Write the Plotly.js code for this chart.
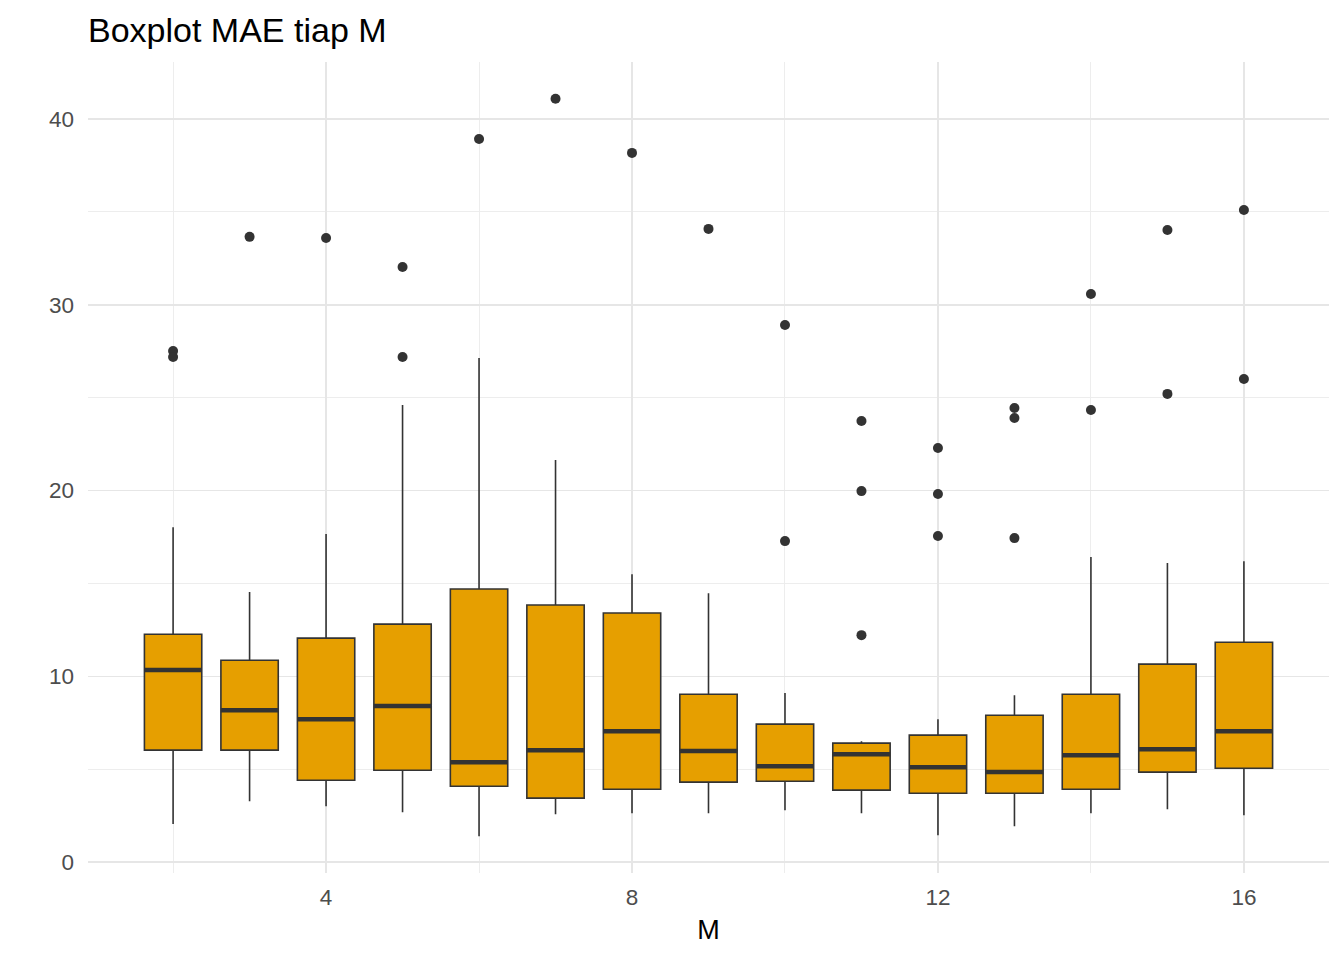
<!DOCTYPE html>
<html>
<head>
<meta charset="utf-8">
<script src="https://cdn.plot.ly/plotly-3.0.1.min.js"></script>
<style>html,body{margin:0;padding:0;background:#fff;}#chart{width:1344px;height:960px;}</style>
</head>
<body>
<div id="chart"></div>
<script>
const M = [2, 3, 4, 5, 6, 7, 8, 9, 10, 11, 12, 13, 14, 15, 16];
const lowerWhisker = [2.05, 3.28, 3.01, 2.69, 1.40, 2.58, 2.64, 2.64, 2.80, 2.64, 1.45, 1.94, 2.64, 2.85, 2.53];
const q1 = [6.03, 6.03, 4.41, 4.95, 4.09, 3.45, 3.93, 4.31, 4.36, 3.88, 3.71, 3.71, 3.93, 4.85, 5.06];
const median = [10.34, 8.18, 7.70, 8.40, 5.38, 6.03, 7.05, 5.98, 5.17, 5.81, 5.11, 4.85, 5.76, 6.08, 7.05];
const q3 = [12.27, 10.87, 12.06, 12.81, 14.70, 13.84, 13.41, 9.04, 7.43, 6.41, 6.84, 7.91, 9.04, 10.66, 11.84];
const upperWhisker = [18.03, 14.54, 17.66, 24.60, 27.13, 21.64, 15.50, 14.48, 9.10, 6.51, 7.70, 8.99, 16.42, 16.10, 16.20];
const outlierM = [2, 2, 3, 4, 5, 5, 6, 7, 8, 9, 10, 10, 11, 11, 11, 12, 12, 12, 13, 13, 13, 14, 14, 15, 15, 16, 16];
const outlierMAE = [27.51, 27.19, 33.65, 33.59, 32.03, 27.19, 38.92, 41.08, 38.17, 34.08, 28.91, 17.28, 23.74, 19.97, 12.22, 22.29, 19.81, 17.55, 24.44, 23.90, 17.44, 30.58, 24.33, 34.02, 25.20, 35.10, 26.00];

const boxWidth = 0.75;
const fillColor = '#E69F00';
const lineColor = '#333333';

// median bars (thicker, as in ggplot)
const medX = [], medY = [];
M.forEach((m, i) => {
  medX.push(m - boxWidth / 2, m + boxWidth / 2, null);
  medY.push(median[i], median[i], null);
});

const traces = [
  {
    type: 'box',
    x: M,
    q1: q1,
    median: median,
    q3: q3,
    lowerfence: lowerWhisker,
    upperfence: upperWhisker,
    width: boxWidth,
    whiskerwidth: 0,
    fillcolor: fillColor,
    line: {color: lineColor, width: 1.6},
    boxpoints: false,
    hoverinfo: 'skip',
    showlegend: false
  },
  {
    type: 'scatter',
    mode: 'lines',
    x: medX,
    y: medY,
    line: {color: lineColor, width: 4.5},
    hoverinfo: 'skip',
    showlegend: false
  },
  {
    type: 'scatter',
    mode: 'markers',
    x: outlierM,
    y: outlierMAE,
    marker: {color: lineColor, size: 10},
    hoverinfo: 'skip',
    showlegend: false
  }
];

const layout = {
  width: 1344,
  height: 960,
  paper_bgcolor: '#ffffff',
  plot_bgcolor: '#ffffff',
  margin: {l: 88, r: 15, t: 62, b: 87},
  font: {family: 'Liberation Sans, Arial, sans-serif', color: '#4d4d4d'},
  title: {
    text: 'Boxplot MAE tiap M',
    font: {size: 34, color: '#000000', family: 'Liberation Sans, Arial, sans-serif'},
    xref: 'paper', x: 0, xanchor: 'left',
    yref: 'container', y: 0.969, yanchor: 'middle'
  },
  xaxis: {
    range: [0.8875, 17.1125],
    tickvals: [4, 8, 12, 16],
    ticktext: ['4', '8', '12', '16'],
    ticks: '',
    showline: false,
    zeroline: false,
    showgrid: true,
    gridcolor: '#e6e6e6',
    gridwidth: 1.7,
    minor: {tickvals: [2, 6, 10, 14], showgrid: true, gridcolor: '#ebebeb', gridwidth: 0.9},
    tickfont: {size: 22.5, color: '#4d4d4d'},
    ticklabelstandoff: 8,
    title: {text: 'M', font: {size: 27, color: '#000000'}, standoff: 11}
  },
  yaxis: {
    range: [-0.58, 43.06],
    tickvals: [0, 10, 20, 30, 40],
    ticks: '',
    showline: false,
    zeroline: false,
    showgrid: true,
    gridcolor: '#e6e6e6',
    gridwidth: 1.7,
    minor: {tickvals: [5, 15, 25, 35], showgrid: true, gridcolor: '#ebebeb', gridwidth: 0.9},
    tickfont: {size: 22.5, color: '#4d4d4d'},
    ticklabelstandoff: 13
  }
};

Plotly.newPlot('chart', traces, layout, {displayModeBar: false, staticPlot: true});
</script>
</body>
</html>
